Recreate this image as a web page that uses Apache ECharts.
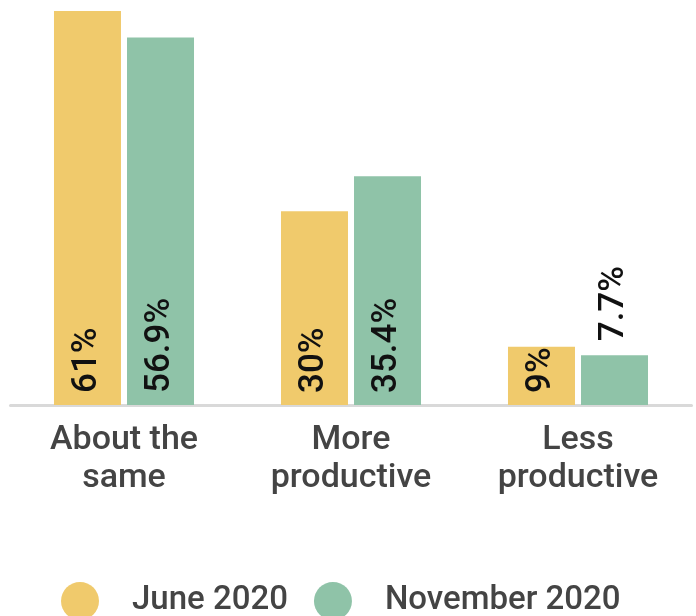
<!DOCTYPE html>
<html>
  <head>
    <meta charset="utf-8">
    <script src="https://cdn.jsdelivr.net/npm/echarts@6/dist/echarts.min.js"></script>
    <style>
      html, body { margin: 0; padding: 0; background: #fff; }
    </style>
  </head>
  <body>
    <div class="chart" style="width:696px;height:616px;"></div>
    <script>
      var categories = ['About the\nsame', 'More\nproductive', 'Less\nproductive'];
      var seriesNames = ['June 2020', 'November 2020'];
      var june = [61, 30, 9];
      var november = [56.9, 35.4, 7.7];
      var colors = ['#F0CA6C', '#8FC3A8'];

      var insideLabel = {
        show: true,
        position: 'insideBottom',
        rotate: 90,
        align: 'left',
        verticalAlign: 'middle',
        distance: 12,
        formatter: '{c}%',
        color: '#111',
        fontFamily: 'Roboto',
        fontWeight: 500,
        fontSize: 35
      };

      function bars(values) {
        return values.map(function (v) {
          // short bars get their label above
          if (v < 8.5) {
            return { value: v, label: { position: 'top', distance: 14 } };
          }
          return v;
        });
      }

      var canvas = document.getElementsByClassName('chart')[0];
      var instance = echarts.init(canvas, null, { renderer: 'canvas' });

      instance.setOption({
        animation: false,
        color: colors,
        grid: { left: 10.5, right: 4.5, top: 11, bottom: 211, containLabel: false },
        legend: {
          left: 56,
          top: 577,
          icon: 'circle',
          itemWidth: 38,
          itemHeight: 38,
          itemGap: 26,
          textStyle: {
            color: '#444',
            fontFamily: 'Roboto',
            fontWeight: 500,
            fontSize: 33,
            padding: [0, 0, 0, 28]
          },
          data: seriesNames
        },
        xAxis: {
          type: 'category',
          data: categories,
          axisLine: { show: true, lineStyle: { color: '#d9d9d9', width: 3 } },
          axisTick: { show: false },
          axisLabel: {
            interval: 0,
            margin: 16,
            color: '#444',
            fontFamily: 'Roboto',
            fontWeight: 500,
            fontSize: 34,
            lineHeight: 38
          }
        },
        yAxis: {
          type: 'value',
          min: 0,
          max: 61,
          show: false,
          splitLine: { show: false }
        },
        series: [
          {
            name: seriesNames[0],
            type: 'bar',
            barWidth: 67,
            barGap: '9%',
            data: bars(june),
            label: insideLabel
          },
          {
            name: seriesNames[1],
            type: 'bar',
            barWidth: 67,
            barGap: '9%',
            data: bars(november),
            label: insideLabel
          }
        ]
      });
    </script>
  </body>
</html>
